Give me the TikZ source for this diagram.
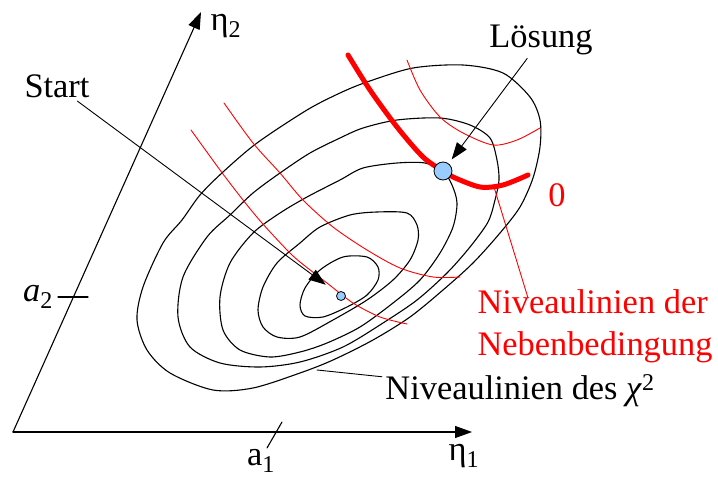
\documentclass[tikz,border=0pt]{standalone}
\usepackage{fontspec}
\setmainfont{Liberation Serif}
\usepackage{tikz}
\usetikzlibrary{arrows.meta}
\definecolor{lsgblue}{HTML}{99CCFF}

\begin{document}
\begin{tikzpicture}[x=1pt,y=-1pt,>={Triangle[length=17pt,width=12pt]},line cap=round,line join=round,
  every node/.style={font=\fontsize{34.4}{42}\selectfont},
  axis/.style={line width=1.1pt},
  contour/.style={line width=1.1pt},
  nbline/.style={red,line width=0.9pt},
  nbthick/.style={red,line width=5pt},
  pointer/.style={line width=0.9pt},
  dot/.style={circle,draw,line width=0.8pt,fill=lsgblue,inner sep=0pt,minimum size=#1}]
\useasboundingbox (0,0) rectangle (718,481);
% axes
\coordinate (O) at (13,432);
\coordinate (e1) at (472,432);
\coordinate (e2) at (201,12);
\draw[axis,->] (O) -- (e1);
\draw[axis,->] (O) -- (e2);
\node (eta1) at (464,456) {η\textsubscript{1}};
\node (eta2) at (226,26) {η\textsubscript{2}};
% ticks
\draw[axis] (58,297) -- (88,297);
\draw[axis] (282,422) -- (267,448);
\node (a1) at (261,461) {a\textsubscript{1}};
\node (a2) at (38,297) {\textit{a}\textsubscript{2}};
% contours of chi^2
\draw[contour] plot[smooth cycle] coordinates {(137,320) (143,287) (163,243) (182,220) (200,195) (223,172) (257,143) (307,110) (340,93) (367,82) (413,68) (463,65) (503,73) (530,97) (540,120) (540,147) (533,178) (520,207) (500,233) (473,263) (443,290) (410,317) (373,340) (333,360) (300,373) (253,388) (213,390) (170,373) (147,350)};
\draw[contour] plot[smooth cycle] coordinates {(178,317) (183,277) (207,237) (230,215) (253,193) (280,173) (310,153) (340,138) (363,128) (397,120) (440,118) (470,125) (490,138) (497,160) (499,180) (495,200) (488,222) (470,247) (447,273) (417,300) (383,323) (343,347) (300,362) (260,367) (220,363) (190,347)};
\draw[contour] plot[smooth cycle] coordinates {(220,297) (230,263) (253,233) (280,213) (307,197) (340,180) (363,168) (397,163) (425,163) (443,171) (452,185) (457,203) (453,227) (440,253) (420,280) (393,303) (360,327) (327,343) (300,352) (270,357) (240,350) (223,330)};
\draw[contour] plot[smooth cycle] coordinates {(258,310) (263,287) (277,263) (300,243) (320,227) (350,215) (377,212) (407,213) (417,225) (418,240) (410,260) (393,280) (367,300) (333,320) (300,337) (277,337) (263,327)};
\draw[contour] plot[smooth cycle] coordinates {(300,305) (305,288) (320,270) (343,257) (367,257) (378,267) (378,280) (367,295) (347,307) (323,317) (305,316)};
% level lines of the constraint
\draw[nbline] plot[smooth] coordinates {(224,103) (253,143) (280,173) (303,200) (333,227) (367,250) (400,268) (433,277) (460,277)};
\draw[nbline] plot[smooth] coordinates {(191,130) (220,170) (243,200) (262,223) (287,250) (300,262) (327,283) (353,303) (380,317) (407,324)};
\draw[nbline] plot[smooth] coordinates {(407,60) (420,90) (440,117) (463,133) (493,145) (517,140) (540,128)};
\draw[nbthick] plot[smooth] coordinates {(348,55) (370,90) (397,127) (423,157) (443,171) (453,177) (480,187) (503,185) (528,175)};
\node[text=red] (zero) at (557,195) {0};
% points
\node[dot=9pt] (spt) at (341,296) {};
\node[dot=18pt] (lpt) at (443,171) {};
% labels
\node (start) at (57,86) {Start};
\node (loesung) at (541,40) {Lösung};
\node (chi) at (520,391) {Niveaulinien des \textit{χ}\textsuperscript{2}};
\node[text=red,align=left] (neben) at (595,326) {Niveaulinien der\\Nebenbedingung};
\coordinate (c5) at (317,370);
\coordinate (nb0) at (494,187);
\draw[pointer,->,shorten >=14pt] (start) -- (spt);
\draw[pointer,->,shorten >=5pt] (loesung) -- (lpt);
\draw[pointer] (chi) -- (c5);
\draw[nbline] ([xshift=54pt,yshift=-12pt]neben.north west) -- (nb0);
\end{tikzpicture}
\end{document}
